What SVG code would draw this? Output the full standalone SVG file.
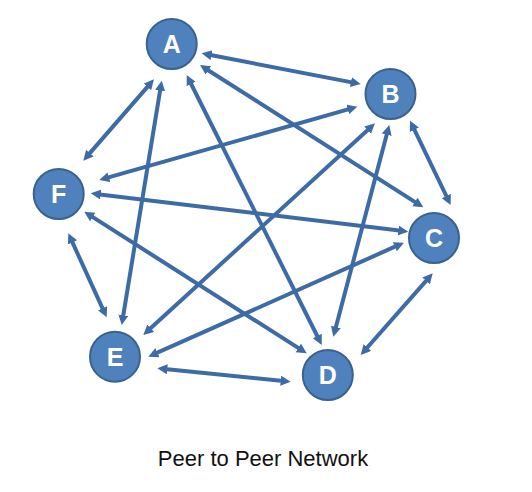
<svg xmlns="http://www.w3.org/2000/svg" width="532" height="492" viewBox="0 0 532 492">
<style>
.node circle{fill:#4F81BD;stroke:#3A6290;stroke-width:2}
.node text{fill:#fff;font-family:"Liberation Sans",Arial,sans-serif;font-weight:bold;font-size:25px;text-anchor:middle}
.edge{stroke:#3D6BA6;stroke-width:4;fill:none;marker-start:url(#arr);marker-end:url(#arr)}
.caption{font-family:"Liberation Sans",Arial,sans-serif;font-size:22px;fill:#111;text-anchor:middle}
</style>
<defs>
<marker id="arr" markerUnits="userSpaceOnUse" markerWidth="12" markerHeight="12" refX="5" refY="5" orient="auto-start-reverse">
<path d="M0,0 L10,5 L0,10 z" fill="#3D6BA6"/>
</marker>
</defs>
<rect width="532" height="492" fill="#fff"/>
<g id="connectors">
<line class="edge" x1="206.6" y1="54.3" x2="355.8" y2="83.1"/>
<line class="edge" x1="204.2" y1="67.7" x2="419.1" y2="204.6"/>
<line class="edge" x1="188.9" y1="79.5" x2="319.5" y2="340.5"/>
<line class="edge" x1="160.9" y1="85.6" x2="122.5" y2="320.1"/>
<line class="edge" x1="150.7" y1="83.1" x2="86.6" y2="156.9"/>
<line class="edge" x1="412.2" y1="125.2" x2="448.5" y2="200.5"/>
<line class="edge" x1="388.0" y1="129.8" x2="334.6" y2="331.9"/>
<line class="edge" x1="371.3" y1="126.7" x2="147.0" y2="331.6"/>
<line class="edge" x1="352.5" y1="108.1" x2="104.1" y2="178.6"/>
<line class="edge" x1="429.4" y1="277.1" x2="364.0" y2="351.3"/>
<line class="edge" x1="399.4" y1="244.7" x2="152.9" y2="354.7"/>
<line class="edge" x1="403.3" y1="231.1" x2="95.7" y2="193.9"/>
<line class="edge" x1="285.7" y1="381.2" x2="162.3" y2="368.8"/>
<line class="edge" x1="302.5" y1="350.6" x2="88.5" y2="214.4"/>
<line class="edge" x1="104.6" y1="312.8" x2="70.4" y2="237.9"/>
</g>
<g id="A" class="node"><circle cx="171.7" cy="44" r="25"/><text x="171.7" y="53">A</text></g>
<g id="B" class="node"><circle cx="390.5" cy="94" r="25"/><text x="390.5" y="103">B</text></g>
<g id="C" class="node"><circle cx="434" cy="238" r="25"/><text x="434" y="247">C</text></g>
<g id="D" class="node"><circle cx="327.8" cy="375" r="25"/><text x="327.8" y="384">D</text></g>
<g id="E" class="node"><circle cx="115" cy="356.7" r="25"/><text x="115" y="365.7">E</text></g>
<g id="F" class="node"><circle cx="58.7" cy="194" r="25"/><text x="58.7" y="203">F</text></g>
<text class="caption" x="263" y="466">Peer to Peer Network</text>
</svg>
